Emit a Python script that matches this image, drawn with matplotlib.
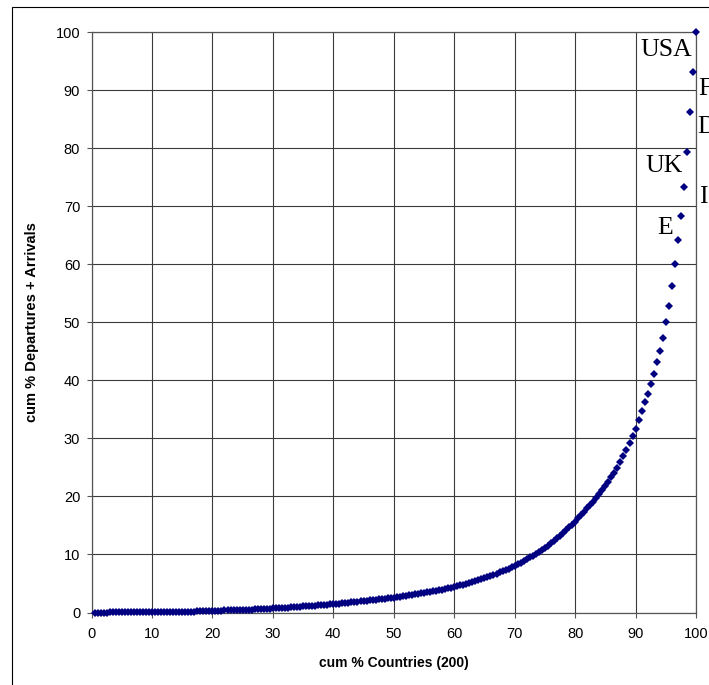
import matplotlib
matplotlib.use("Agg")
import matplotlib.pyplot as plt
import numpy as np
from matplotlib.patches import Rectangle

# cumulative share of departures + arrivals, countries sorted ascending (200 countries)
N_COUNTRIES = 200
cum_share = [
    0.00, 0.00, 0.00, 0.00, 0.00, 0.01, 0.01, 0.01, 0.01, 0.01,
    0.02, 0.02, 0.02, 0.02, 0.03, 0.03, 0.03, 0.04, 0.04, 0.05,
    0.05, 0.06, 0.06, 0.07, 0.08, 0.08, 0.09, 0.10, 0.11, 0.12,
    0.13, 0.14, 0.15, 0.17, 0.18, 0.20, 0.22, 0.24, 0.27, 0.30,
    0.31, 0.32, 0.33, 0.35, 0.36, 0.38, 0.39, 0.41, 0.43, 0.45,
    0.47, 0.49, 0.51, 0.53, 0.55, 0.58, 0.61, 0.64, 0.67, 0.70,
    0.73, 0.76, 0.79, 0.82, 0.86, 0.89, 0.93, 0.97, 1.00, 1.04,
    1.08, 1.12, 1.16, 1.20, 1.24, 1.28, 1.32, 1.36, 1.40, 1.44,
    1.48, 1.53, 1.58, 1.63, 1.68, 1.73, 1.78, 1.84, 1.90, 1.96,
    2.02, 2.08, 2.14, 2.20, 2.26, 2.32, 2.38, 2.44, 2.50, 2.56,
    2.64, 2.72, 2.80, 2.88, 2.96, 3.04, 3.12, 3.20, 3.28, 3.37,
    3.46, 3.55, 3.64, 3.74, 3.84, 3.95, 4.06, 4.17, 4.28, 4.40,
    4.53, 4.67, 4.81, 4.96, 5.11, 5.27, 5.43, 5.60, 5.78, 5.96,
    6.14, 6.32, 6.51, 6.70, 6.90, 7.10, 7.31, 7.53, 7.76, 8.00,
    8.28, 8.57, 8.87, 9.17, 9.48, 9.79, 10.10, 10.42, 10.75, 11.08,
    11.50, 11.92, 12.35, 12.79, 13.24, 13.70, 14.17, 14.65, 15.14, 15.64,
    16.32, 16.85, 17.39, 17.94, 18.50, 19.10, 19.72, 20.36, 21.03, 21.75,
    22.50, 23.30, 24.10, 24.95, 25.85, 26.90, 28.00, 29.20, 30.40, 31.70,
    33.20, 34.70, 36.30, 37.70, 39.30, 41.10, 43.10, 45.10, 47.30, 50.00,
    52.90, 56.30, 60.10, 64.20, 68.40, 73.40, 79.40, 86.30, 93.10, 100.00,
]
cum_countries = [100.0 * (i + 1) / N_COUNTRIES for i in range(N_COUNTRIES)]

# labelled countries: (label, rank from the top)
country_labels = [("USA", 1), ("F", 2), ("D", 3), ("UK", 4), ("I", 5), ("E", 6)]

x_ticks = list(range(0, 101, 10))
y_ticks = list(range(0, 101, 10))

# label offsets in pixels relative to their point
LABEL_OFFSETS = {
    "USA": (-4.3, -23.4, "right"),
    "F": (5.8, -22.7, "left"),
    "D": (7.6, -21.3, "left"),
    "UK": (-4.0, -20.5, "right"),
    "I": (15.0, -16.5, "left"),
    "E": (-7.7, -18.0, "right"),
}

DPI = 100
fig = plt.figure(figsize=(7.09, 6.85), dpi=DPI)
plt.rcParams["font.family"] = ["Liberation Sans", "DejaVu Sans"]

# outer chart frame (right/bottom edges lie outside the picture)
W, H = 709, 685
fig.patches.append(Rectangle((12 / W, -0.5), 2.0, 1.5 - 6.7 / H, transform=fig.transFigure,
                             fill=False, edgecolor="black", linewidth=0.8))

ax = fig.add_axes([91.5 / W, 1 - 612.5 / H, (696 - 91.5) / W, (612.5 - 32.2) / H])
ax.plot(cum_countries, cum_share, linestyle="none", marker="D", markersize=4.0,
        color="#000080", markeredgewidth=0, clip_on=False, zorder=3)

ax.set_xlim(0, 100)
ax.set_ylim(0, 100)
ax.set_xticks(x_ticks)
ax.set_yticks(y_ticks)
ax.grid(True, color="#3a3a3a", linewidth=0.8)
ax.set_axisbelow(True)
for side in ["top", "right", "left", "bottom"]:
    ax.spines[side].set_color("#555555")
    ax.spines[side].set_linewidth(0.9)
ax.tick_params(direction="out", length=3.6, width=0.8, color="#555555",
               labelsize=10.5, labelcolor="black")
ax.tick_params(axis="x", pad=7)
ax.tick_params(axis="y", pad=4.5)

ax.set_xlabel("cum % Countries (200)", fontsize=10, fontweight="bold", labelpad=11)
ax.set_ylabel("cum % Departures + Arrivals", fontsize=10.5, fontweight="bold", labelpad=12)

for name, rank in country_labels:
    idx = N_COUNTRIES - rank
    dx, dy, ha = LABEL_OFFSETS[name]
    ax.annotate(name, (cum_countries[idx], cum_share[idx]),
                xytext=(dx * 72 / DPI, dy * 72 / DPI), textcoords="offset points",
                ha=ha, va="baseline", fontsize=18.5, family=["Liberation Serif", "DejaVu Serif"],
                annotation_clip=False)

fig.savefig("out.png", dpi=DPI)
